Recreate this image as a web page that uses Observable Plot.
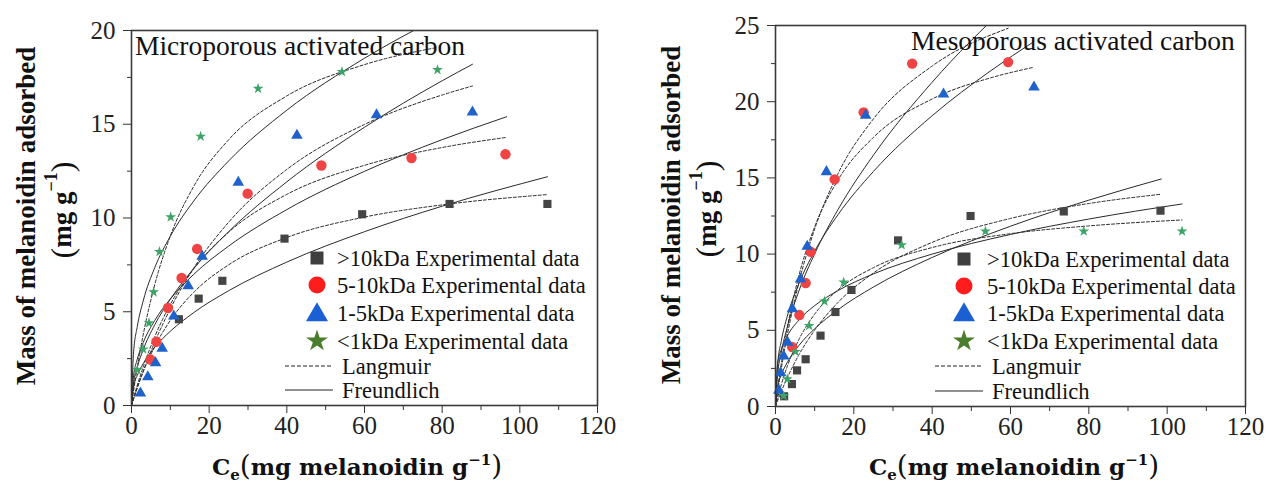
<!DOCTYPE html>
<html>
<head>
<meta charset="utf-8">
<script src="https://cdn.jsdelivr.net/npm/d3@7"></script>
<script src="https://cdn.jsdelivr.net/npm/@observablehq/plot@0.6"></script>
<style>
  html, body { margin: 0; padding: 0; background: #fff; }
  #page { position: relative; width: 1266px; height: 492px; overflow: hidden; background: #fff; }
  .panel { position: absolute; top: 0; }
  #overlay { position: absolute; left: 0; top: 0; pointer-events: none; }
</style>
</head>
<body>
<div id="page">
  <div id="micro" class="panel" style="left:0px"></div>
  <div id="meso" class="panel" style="left:640px"></div>
  <svg id="overlay" width="1266" height="492"></svg>
</div>
<script>
// ---------- tick values ----------
const xTicks = [0, 20, 40, 60, 80, 100, 120];
const xMinorTicks = [10, 30, 50, 70, 90, 110];
const microYTicks = [0, 5, 10, 15, 20];
const microYMinor = [2.5, 7.5, 12.5, 17.5];
const mesoYTicks = [0, 5, 10, 15, 20, 25];
const mesoYMinor = [2.5, 7.5, 12.5, 17.5, 22.5];

const fractions = [">10kDa", "5-10kDa", "1-5kDa", "<1kDa"];

// ---------- Microporous: experimental data ----------
const microGt10X = [12.2, 17.3, 23.4, 39.4, 59.4, 81.9, 107.1];
const microGt10Y = [4.6, 5.7, 6.65, 8.9, 10.2, 10.75, 10.75];
const micro5to10X = [4.9, 6.4, 9.4, 12.9, 16.9, 29.9, 48.9, 72.1, 96.3];
const micro5to10Y = [2.45, 3.4, 5.2, 6.8, 8.35, 11.3, 12.8, 13.2, 13.4];
const micro1to5X = [2.3, 4.2, 6.2, 7.9, 10.9, 14.6, 18.2, 27.5, 42.6, 63.1, 87.8];
const micro1to5Y = [0.66, 1.52, 2.27, 3.04, 4.77, 6.38, 7.95, 11.9, 14.4, 15.5, 15.65];
const microLt1X = [1.5, 3.0, 4.5, 5.7, 7.2, 10.1, 17.8, 32.6, 54.2, 78.8];
const microLt1Y = [1.9, 3.0, 4.4, 6.05, 8.2, 10.05, 14.35, 16.9, 17.8, 17.9];

// ---------- Microporous: model curves ----------
const microGt10CurveX = [0, 0.5, 1.5, 3, 6, 10, 16, 25, 40, 60, 80, 107.1];
const microGt10LangY = [0, 0.34, 0.96, 1.79, 3.15, 4.54, 6.03, 7.50, 8.96, 10.05, 10.70, 11.25];
const microGt10FreuY = [0, 0.95, 1.61, 2.23, 3.11, 3.96, 4.95, 6.12, 7.65, 9.27, 10.63, 12.2];
const micro5to10CurveX = [0, 0.5, 1.5, 3, 6, 10, 16, 25, 40, 60, 80, 96.6];
const micro5to10LangY = [0, 0.38, 1.09, 2.05, 3.68, 5.39, 7.29, 9.24, 11.26, 12.81, 13.76, 14.30];
const micro5to10FreuY = [0, 1.52, 2.47, 3.35, 4.54, 5.68, 6.99, 8.50, 10.45, 12.49, 14.18, 15.40];
const micro1to5CurveX = [0, 0.5, 1.5, 3, 6, 10, 16, 25, 40, 60, 80, 87.8];
const micro1to5LangY = [0, 0.32, 0.95, 1.82, 3.39, 5.16, 7.32, 9.77, 12.59, 14.99, 16.56, 17.04];
const micro1to5FreuY = [0, 1.13, 2.05, 2.97, 4.31, 5.67, 7.30, 9.27, 11.93, 14.84, 17.32, 18.2];
const microLt1CurveX = [0, 0.5, 1.5, 3, 6, 10, 16, 25, 40, 60, 78.8];
const microLt1LangY = [0, 0.73, 2.05, 3.76, 6.45, 9.04, 11.68, 14.17, 16.51, 18.18, 19.10];
const microLt1FreuY = [0, 2.72, 4.22, 5.57, 7.36, 9.03, 10.90, 13.04, 15.75, 18.52, 20.67];

// ---------- Mesoporous: experimental data ----------
const mesoGt10X = [2.2, 4.2, 5.5, 7.7, 11.5, 15.3, 19.4, 31.3, 49.8, 73.6, 98.3];
const mesoGt10Y = [0.67, 1.47, 2.37, 3.1, 4.65, 6.2, 7.65, 10.9, 12.5, 12.8, 12.85];
const meso5to10X = [4.25, 6.1, 7.7, 9.0, 15.1, 22.5, 34.9, 59.4];
const meso5to10Y = [3.9, 6.0, 8.1, 10.15, 14.9, 19.3, 22.5, 22.6];
const meso1to5X = [0.85, 1.3, 2.1, 3.1, 4.3, 6.4, 8.1, 13.0, 23.0, 42.9, 66.0];
const meso1to5Y = [1.05, 2.2, 3.3, 4.2, 6.4, 8.35, 10.5, 15.4, 19.1, 20.5, 20.95];
const mesoLt1X = [2.1, 3.0, 5.1, 8.6, 12.5, 17.4, 32.2, 53.6, 78.7, 103.8];
const mesoLt1Y = [0.7, 1.8, 3.6, 5.3, 6.9, 8.15, 10.6, 11.5, 11.5, 11.5];

// ---------- Mesoporous: model curves ----------
const mesoGt10CurveX = [0, 0.5, 1.5, 3, 6, 10, 16, 25, 40, 60, 80, 98.5];
const mesoGt10LangY = [0, 0.35, 1.00, 1.88, 3.40, 5.01, 6.84, 8.76, 10.77, 12.34, 13.32, 13.93];
const mesoGt10FreuY = [0, 1.25, 2.09, 2.89, 4.01, 5.10, 6.36, 7.84, 9.78, 11.83, 13.54, 14.93];
const meso5to10CurveX = [0, 0.5, 1.5, 3, 6, 10, 16, 25, 40, 59.4];
const meso5to10LangY = [0, 0.89, 2.52, 4.67, 8.16, 11.64, 15.30, 18.87, 22.34, 24.82];
const meso5to10FreuY = [0, 1.97, 3.58, 5.21, 7.60, 10.02, 12.94, 16.49, 21.28, 26.37];
const meso1to5CurveX = [0, 0.5, 1.5, 3, 6, 10, 16, 25, 40, 55, 66];
const meso1to5LangY = [0, 1.02, 2.85, 5.14, 8.61, 11.79, 14.88, 17.66, 20.18, 21.57, 22.26];
const meso1to5FreuY = [0, 2.63, 4.32, 5.91, 8.08, 10.19, 12.60, 15.42, 19.08, 22.04, 23.95];
const mesoLt1CurveX = [0, 0.5, 1.5, 3, 6, 10, 16, 25, 40, 60, 80, 103.8];
const mesoLt1LangY = [0, 0.52, 1.45, 2.63, 4.41, 6.06, 7.66, 9.11, 10.43, 11.34, 11.85, 12.24];
const mesoLt1FreuY = [0, 2.71, 3.76, 4.62, 5.68, 6.62, 7.61, 8.70, 10.00, 11.29, 12.30, 13.29];

// ---------- styles ----------
const symbols = ["square", "circle", "triangle", "star"];
const dataColors = ["#454545", "#f04444", "#1f62cc", "#3ba466"];
const dataR = [4.6, 5.2, 4.3, 3.4];
const legendColors = ["#3f3f3f", "#ff1c1c", "#1b5fd4", "#4a7d2c"];
const serif = "'Liberation Serif', 'Times New Roman', serif";
const mathSerif = "'DejaVu Serif', 'Liberation Serif', serif";

const pts = (xs, ys) => xs.map((x, i) => ({x, y: ys[i]}));

function panel({width, marginLeft, marginRight, marginTop, marginBottom, yDomain, yTicks, yMinor, series, curves}) {
  const marks = [];
  for (const c of curves) {
    marks.push(Plot.line(pts(c.x, c.y), {
      x: "x", y: "y", curve: "monotone-x", clip: true,
      stroke: "#2a2a2a", strokeWidth: 1,
      strokeDasharray: c.dash ? "3,2" : undefined
    }));
  }
  series.forEach((s, i) => {
    marks.push(Plot.dot(pts(s.x, s.y), {
      x: "x", y: "y", symbol: symbols[i], r: dataR[i], fill: dataColors[i], stroke: "none"
    }));
  });
  marks.push(
    Plot.axisX({ticks: xMinorTicks, tickSize: 5, tickFormat: () => "", stroke: "#333", label: null}),
    Plot.axisX({ticks: xTicks, tickSize: 8, tickPadding: 3, stroke: "#333", fill: "#222", label: null}),
    Plot.axisY({ticks: yMinor, tickSize: 4, tickFormat: () => "", stroke: "#333", label: null}),
    Plot.axisY({ticks: yTicks, tickSize: 8, tickPadding: 8, stroke: "#333", fill: "#222", label: null}),
    Plot.frame({stroke: "#3a3a3a", strokeWidth: 1.6})
  );
  return Plot.plot({
    width, height: 492, marginLeft, marginRight, marginTop, marginBottom,
    x: {domain: [0, 120], label: null},
    y: {domain: yDomain, label: null},
    style: {fontFamily: serif, fontSize: "25px", color: "#222", background: "transparent", overflow: "visible"},
    marks
  });
}

document.getElementById("micro").appendChild(panel({
  width: 640, marginLeft: 131, marginRight: 43, marginTop: 30, marginBottom: 87,
  yDomain: [0, 20], yTicks: microYTicks, yMinor: microYMinor,
  series: [
    {x: microGt10X, y: microGt10Y}, {x: micro5to10X, y: micro5to10Y},
    {x: micro1to5X, y: micro1to5Y}, {x: microLt1X, y: microLt1Y}
  ],
  curves: [
    {x: microGt10CurveX, y: microGt10LangY, dash: true}, {x: microGt10CurveX, y: microGt10FreuY},
    {x: micro5to10CurveX, y: micro5to10LangY, dash: true}, {x: micro5to10CurveX, y: micro5to10FreuY},
    {x: micro1to5CurveX, y: micro1to5LangY, dash: true}, {x: micro1to5CurveX, y: micro1to5FreuY},
    {x: microLt1CurveX, y: microLt1LangY, dash: true}, {x: microLt1CurveX, y: microLt1FreuY}
  ]
}));

document.getElementById("meso").appendChild(panel({
  width: 626, marginLeft: 135, marginRight: 21, marginTop: 25, marginBottom: 86,
  yDomain: [0, 25], yTicks: mesoYTicks, yMinor: mesoYMinor,
  series: [
    {x: mesoGt10X, y: mesoGt10Y}, {x: meso5to10X, y: meso5to10Y},
    {x: meso1to5X, y: meso1to5Y}, {x: mesoLt1X, y: mesoLt1Y}
  ],
  curves: [
    {x: mesoGt10CurveX, y: mesoGt10LangY, dash: true}, {x: mesoGt10CurveX, y: mesoGt10FreuY},
    {x: meso5to10CurveX, y: meso5to10LangY, dash: true}, {x: meso5to10CurveX, y: meso5to10FreuY},
    {x: meso1to5CurveX, y: meso1to5LangY, dash: true}, {x: meso1to5CurveX, y: meso1to5FreuY},
    {x: mesoLt1CurveX, y: mesoLt1LangY, dash: true}, {x: mesoLt1CurveX, y: mesoLt1FreuY}
  ]
}));

// ---------- overlay: titles, axis titles, legends ----------
const ov = d3.select("#overlay");

function titles(t) {
  ov.append("text").attr("x", t.titleX).attr("y", t.titleY)
    .attr("font-family", serif).attr("font-size", 27.5).attr("fill", "#111")
    .text(t.title);
  // y-axis title (two lines, rotated)
  ov.append("text")
    .attr("transform", `translate(${t.yt1X},${t.ytY}) rotate(-90)`)
    .attr("text-anchor", "middle").attr("dominant-baseline", "central")
    .attr("font-family", serif).attr("font-weight", "bold").attr("font-size", 27).attr("fill", "#111")
    .text("Mass of melanoidin adsorbed");
  const y2 = ov.append("text")
    .attr("transform", `translate(${t.yt2X},${t.ytY - 6}) rotate(-90)`)
    .attr("text-anchor", "middle").attr("dominant-baseline", "central")
    .attr("font-family", serif).attr("font-weight", "bold").attr("font-size", 27).attr("fill", "#111");
  y2.append("tspan").attr("font-weight", "normal").attr("font-size", 32).text("(");
  y2.append("tspan").text("mg g");
  y2.append("tspan").attr("font-size", 18).attr("dy", -11).text("−1");
  y2.append("tspan").attr("dy", 11).attr("font-weight", "normal").attr("font-size", 32).text(")");
  // x-axis title
  const xt = ov.append("text").attr("x", t.xtX).attr("y", 475).attr("text-anchor", "middle")
    .attr("font-family", mathSerif).attr("font-weight", "bold").attr("font-size", 23).attr("fill", "#111");
  xt.append("tspan").text("C");
  xt.append("tspan").attr("font-size", 15).attr("dy", 5).text("e");
  xt.append("tspan").attr("dy", -5).attr("font-weight", "normal").attr("font-size", 28).text("(");
  xt.append("tspan").text("mg melanoidin g");
  xt.append("tspan").attr("font-size", 15).attr("dy", -10).text("−1");
  xt.append("tspan").attr("dy", 10).attr("font-weight", "normal").attr("font-size", 28).text(")");
}

function legend(l) {
  const sizes = [13 * 13, Math.PI * 8.5 * 8.5, 210, 150];
  const symTypes = [d3.symbolSquare, d3.symbolCircle, d3.symbolTriangle, d3.symbolStar];
  fractions.forEach((f, i) => {
    const cy = l.rows[i];
    ov.append("path")
      .attr("d", d3.symbol(symTypes[i], sizes[i])())
      .attr("transform", `translate(${l.symX},${cy + (i === 2 ? 2 : 0)})`)
      .attr("fill", legendColors[i]);
    ov.append("text").attr("x", l.textX).attr("y", cy).attr("dominant-baseline", "central")
      .attr("font-family", serif).attr("font-size", 22.5).attr("fill", "#111")
      .text(`${f} Experimental data`);
  });
  const lineNames = ["Langmuir", "Freundlich"];
  lineNames.forEach((n, i) => {
    const cy = l.lineRows[i];
    ov.append("line").attr("x1", l.lineX1).attr("x2", l.lineX2).attr("y1", cy).attr("y2", cy)
      .attr("stroke", "#222").attr("stroke-width", 1.2)
      .attr("stroke-dasharray", i === 0 ? "4,2" : null);
    ov.append("text").attr("x", l.lineTextX).attr("y", cy).attr("dominant-baseline", "central")
      .attr("font-family", serif).attr("font-size", 22.5).attr("fill", "#111").text(n);
  });
}

titles({title: "Microporous activated carbon", titleX: 135, titleY: 55,
        yt1X: 26, yt2X: 62, ytY: 216, xtX: 357});
titles({title: "Mesoporous activated carbon", titleX: 911, titleY: 50,
        yt1X: 671, yt2X: 707, ytY: 215, xtX: 1014});

legend({symX: 317, textX: 337, rows: [258, 285, 313, 341], lineX1: 285, lineX2: 333,
        lineRows: [366, 390], lineTextX: 342});
legend({symX: 964, textX: 987, rows: [259, 286, 313, 341], lineX1: 935, lineX2: 983,
        lineRows: [366, 391], lineTextX: 992});
</script>
</body>
</html>
